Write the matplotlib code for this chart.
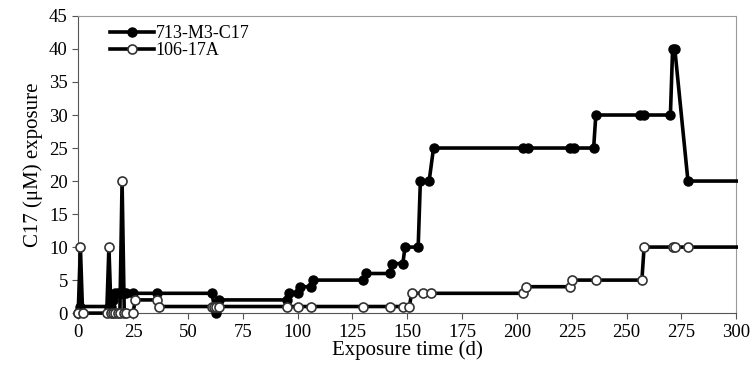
import numpy as np
import matplotlib
matplotlib.use("Agg")
import matplotlib.pyplot as plt

# 713-M3-C17 (filled markers)
t_m3 = [0, 1, 14, 15, 16, 17, 18, 19, 20, 21, 22, 25, 36, 61, 62, 63, 64,
        95, 96, 100, 101, 106, 107, 130, 131, 142, 143, 148, 149, 155, 156,
        160, 162, 203, 205, 224, 226, 235, 236, 256, 258, 270, 271, 272, 278, 300]
c_m3 = [0, 1, 1, 1, 2, 3, 3, 3, 3, 3, 3, 3, 3, 3, 1, 0, 2,
        2, 3, 3, 4, 4, 5, 5, 6, 6, 7.5, 7.5, 10, 10, 20,
        20, 25, 25, 25, 25, 25, 25, 30, 30, 30, 30, 40, 40, 20, 20]

# 106-17A (open markers)
t_17a = [0, 1, 2, 13, 14, 15, 16, 17, 18, 19, 20, 21, 22, 25, 26, 36, 37,
         61, 62, 63, 64, 95, 100, 106, 130, 142, 148, 151, 152, 157, 161,
         203, 204, 224, 225, 236, 257, 258, 271, 272, 278, 300]
c_17a = [0, 10, 0, 0, 10, 0, 0, 0, 0, 0, 20, 0, 0, 0, 2, 2, 1,
         1, 1, 1, 1, 1, 1, 1, 1, 1, 1, 1, 3, 3, 3,
         3, 4, 4, 5, 5, 5, 10, 10, 10, 10, 10]

plt.rcParams['font.family'] = ['Liberation Serif', 'DejaVu Serif']

fig = plt.figure(figsize=(7.52, 3.8), dpi=100)
ax = fig.add_axes([0.104, 0.176, 0.875, 0.782])

ax.plot(t_m3, c_m3, color="black", lw=2.6, marker="o", ms=6.5,
        mfc="black", mec="black", markevery=list(range(len(t_m3) - 1)),
        clip_on=False, zorder=3, label="713-M3-C17")
ax.plot(t_17a, c_17a, color="black", lw=2.6, marker="o", ms=6.5,
        mfc="white", mec="#333333", mew=1.2, markevery=list(range(len(t_17a) - 1)),
        clip_on=False, zorder=4, label="106-17A")

ax.set_xlim(0, 300)
ax.set_ylim(0, 45)
ax.set_xticks(np.arange(0, 301, 25))
ax.set_yticks(np.arange(0, 46, 5))
ax.tick_params(labelsize=13.5, direction="out", length=4, color="#555555")
for s in ax.spines.values():
    s.set_color("#9a9a9a")
ax.spines["left"].set_color("#555555")
ax.spines["bottom"].set_color("#555555")

ax.set_xlabel("Exposure time (d)", fontsize=15, labelpad=0)
ax.set_ylabel("C17 (\u03bcM) exposure", fontsize=15, labelpad=4)

ax.legend(loc="upper left", bbox_to_anchor=(0.035, 1.0), frameon=False,
          fontsize=13, handlelength=2.4, handletextpad=0.1,
          labelspacing=0.0, borderaxespad=0.1)

fig.savefig("out.png", dpi=100)
